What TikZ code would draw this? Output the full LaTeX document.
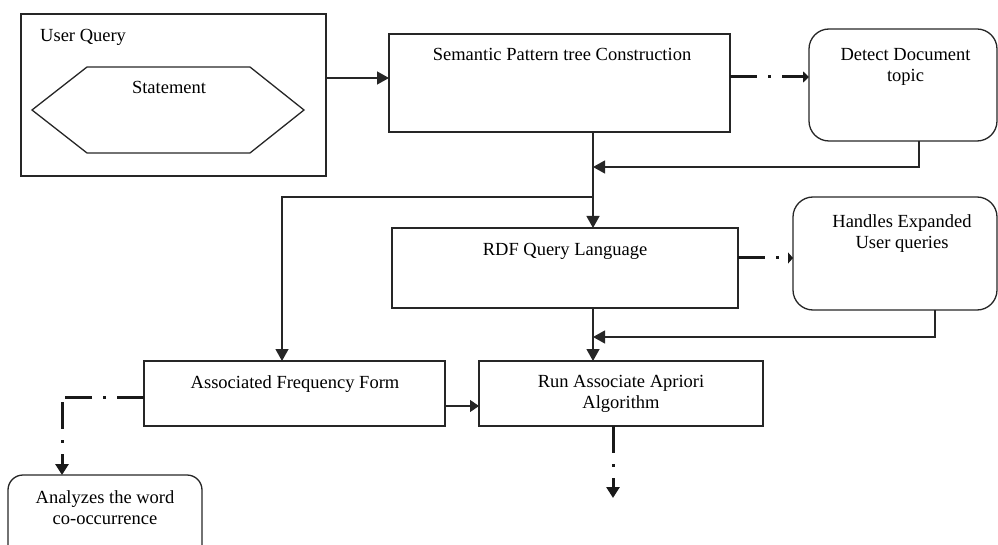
\documentclass[tikz,border=0pt]{standalone}
\usepackage{fontspec}
\setmainfont{Liberation Serif}
\usetikzlibrary{arrows.meta,calc}
% centred two-line text whose baseline is that of its first line
\newcommand{\twolines}[2]{\begin{tabular}[t]{@{}c@{}}#1\\#2\end{tabular}}

\begin{document}
\begin{tikzpicture}[x=1pt,y=-1pt,
  every node/.style={font=\fontsize{18.5}{21}\selectfont},
  box/.style={draw=black!85, line width=1.3pt, inner sep=0pt, outer sep=0pt},
  roundbox/.style={box, rounded corners=20pt},
  boldbox/.style={box, line width=2pt},
  txt/.style={inner sep=0pt, anchor=base},
  flow/.style={draw=black!85, line width=1.3pt, -{Triangle[length=12pt,width=13pt]}},
  smallflow/.style={draw=black!85, line width=1.3pt, -{Triangle[length=9pt,width=12pt]}},
  dashdot/.style={draw=black!90, line width=3pt,
    dash pattern=on 27pt off 11pt on 3pt off 11pt},
]
\useasboundingbox (0,0) rectangle (998,545);
\clip (0,0) rectangle (998,545);

% ---- boxes ----
\node[box, minimum width=305pt, minimum height=162pt] (uq) at (173.5,95) {};
\draw[black!85, line width=2.4pt] (uq.north west) -- (uq.south west);
\draw[black!85, line width=1.3pt, line join=miter]
  (32,110) -- (87,67) -- (250,67) -- (304,110) -- (250,153) -- (87,153) -- cycle;

\node[box, minimum width=341pt, minimum height=98pt] (sem) at (559.5,83) {};
\node[roundbox, minimum width=188pt, minimum height=112pt] (det) at (903,85) {};
\node[box, minimum width=346pt, minimum height=80pt] (rdf) at (565,268) {};
\node[roundbox, minimum width=204pt, minimum height=113pt] (hand) at (895,253.5) {};
\node[boldbox, minimum width=301pt, minimum height=65pt] (assoc) at (294.5,393.5) {};
\node[boldbox, minimum width=284pt, minimum height=65pt] (run) at (621,393.5) {};
\node[box, rounded corners=15pt, minimum width=194pt, minimum height=85pt] (ana) at (105,517.5) {};

% ---- texts ----
\node[txt, anchor=base west] (tuq) at (40,42) {User Query};
\node[txt] (tst) at (169,94) {Statement};
\node[txt] (tsem) at (562,61) {Semantic Pattern tree Construction};
\node[txt] (tdet) at (905.5,61) {\twolines{Detect Document}{topic}};
\node[txt] (trdf) at (565,256) {RDF Query Language};
\node[txt] (thand) at (902,228) {\twolines{Handles Expanded}{User queries}};
\node[txt] (tassoc) at (295,388) {Associated Frequency Form};
\node[txt] (trun) at (621,387) {\twolines{Run Associate Apriori}{Algorithm}};
\node[txt] (tana) at (105,503) {\twolines{Analyzes the word}{co-occurrence}};

% ---- junctions ----
\coordinate (spine) at (593,200);
\coordinate (fb1) at (593,167);
\coordinate (br) at (593,197);
\coordinate (fb2) at (593,337);
\coordinate (runout) at (613,498);
\coordinate (anacorner) at (62,397);

% ---- connectors ----
\draw[flow] ($(uq.east)+(0,-17)$) -- ($(sem.west)+(0,-5)$);
\draw[flow] (sem.south -| spine) -- (rdf.north -| spine);
\draw[flow] ($(det.south)+(16,0)$) |- (fb1);
\draw[flow] (br) -| ($(assoc.north)+(-12.5,0)$);
\draw[flow] ($(hand.south)+(40,0)$) |- (fb2);
\draw[flow] (rdf.south -| spine) -- (run.north -| spine);
\draw[smallflow] ($(assoc.east)+(0,12.5)$) -- ($(run.west)+(0,12.5)$);

\draw[dashdot, -{Triangle[length=6pt,width=11pt]}]
  ($(sem.east)+(0,-6)$) -- ($(det.west)+(0,-8)$);
\draw[dashdot, -{Triangle[length=5pt,width=11pt]}]
  ($(rdf.east)+(0,-10)$) -- ($(hand.west)+(0,4.5)$);
\draw[dashdot] ($(assoc.west)+(0,3.5)$) -- (anacorner);
\draw[dashdot, dash phase=47pt, -{Triangle[length=11pt,width=13pt]}]
  (anacorner) -- ($(ana.north)+(-43,0)$);
\draw[dashdot, -{Triangle[length=11pt,width=13pt]}]
  (run.south -| runout) -- (runout);
\end{tikzpicture}
\end{document}
